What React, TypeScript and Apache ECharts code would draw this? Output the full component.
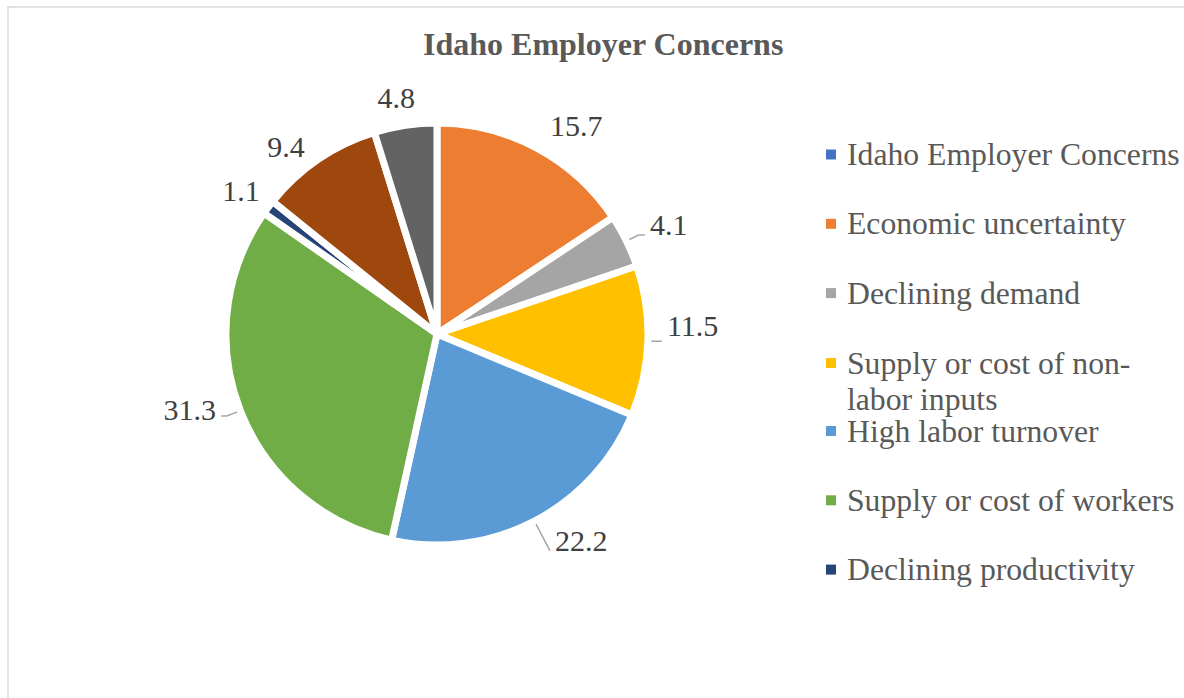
import React, { useEffect, useRef } from "react";
import * as echarts from "echarts";

const TITLE = "Idaho Employer Concerns";
const categories = [
  "Idaho Employer Concerns",
  "Economic uncertainty",
  "Declining demand",
  "Supply or cost of non-labor inputs",
  "High labor turnover",
  "Supply or cost of workers",
  "Declining productivity",
  "Government regulations",
  "Other",
];
const values = [0, 15.7, 4.1, 11.5, 22.2, 31.3, 1.1, 9.4, 4.8];
const colors = [
  "#4472C4",
  "#ED7D31",
  "#A5A5A5",
  "#FFC000",
  "#5B9BD5",
  "#70AD47",
  "#264478",
  "#9E480E",
  "#636363",
];
const legendGroupA = categories.slice(0, 3);
const legendGroupB = categories.slice(3, 4);
const legendGroupC = categories.slice(4, 7);

// per-slice label placement (label line lengths, spacer below text, line visibility)
const labelLen1 = [0, 25.6, 13.5, 7, 33.6, 14.7, 27, 15.7, 28.2];
const labelLen2 = [0, -3.9, 6.5, 7, 0, 5.7, -18, 0, -18.8];
const labelPadBottom = [0, 0, 21.6, 30.4, 20, 14, 0, 0, 0];
const labelLineVisible = [false, false, true, true, true, true, false, false, false];

const FONT = "'Liberation Serif', 'Times New Roman', serif";

export default function App() {
  const ref = useRef<HTMLDivElement>(null);
  useEffect(() => {
    if (!ref.current) return;
    const chart = echarts.init(ref.current, undefined, { renderer: "svg" });
    const legendText = {
      fontFamily: FONT,
      fontSize: 31.7,
      color: "#595959",
      lineHeight: 36,
      padding: [0, 0, 0, 6],
    };
    const legendBase = {
      orient: "vertical" as const,
      left: 826,
      padding: 0,
      itemWidth: 10,
      itemHeight: 10,
      itemGap: 33.3,
      icon: "rect",
      selectedMode: false,
      itemStyle: { borderWidth: 0 },
      textStyle: legendText,
    };
    chart.setOption({
      animation: false,
      color: colors,
      title: {
        text: TITLE,
        left: 418,
        top: 23,
        textStyle: {
          fontFamily: FONT,
          fontSize: 32,
          fontWeight: "bold",
          color: "#595959",
        },
      },
      legend: [
        { ...legendBase, top: 136.5, data: legendGroupA },
        {
          ...legendBase,
          top: 309,
          data: legendGroupB,
          formatter: () => "\nSupply or cost of non-\nlabor inputs",
        },
        { ...legendBase, top: 413, data: legendGroupC },
      ],
      graphic: [
        {
          type: "rect",
          shape: { x: 8, y: 7, width: 1300, height: 800 },
          style: { fill: "none", stroke: "#D9D9D9", lineWidth: 1.5 },
          silent: true,
        },
      ],
      series: [
        {
          type: "pie",
          center: [437, 334],
          radius: 211,
          startAngle: 90,
          clockwise: true,
          avoidLabelOverlap: false,
          itemStyle: { borderColor: "#ffffff", borderWidth: 7 },
          label: {
            show: true,
            position: "outside",
            fontFamily: FONT,
            fontSize: 30,
            lineHeight: 30,
            color: "#404040",
          },
          labelLine: {
            show: true,
            length: 10,
            length2: 10,
            lineStyle: { color: "#A6A6A6", width: 1.5 },
          },
          data: categories.map((name, i) => ({
            name,
            value: values[i],
            label: {
              show: values[i] !== 0,
              formatter:
                labelPadBottom[i] > 0 ? `${values[i]}\n{p| }` : `${values[i]}`,
              rich: {
                p: {
                  fontSize: 1,
                  lineHeight: labelPadBottom[i],
                  height: labelPadBottom[i],
                },
              },
            },
            labelLine: {
              show: labelLineVisible[i],
              length: labelLen1[i],
              length2: labelLen2[i],
            },
          })),
        },
      ],
    });
    return () => chart.dispose();
  }, []);
  return (
    <div
      ref={ref}
      style={{ position: "absolute", left: 0, top: 0, width: 1184, height: 698 }}
    />
  );
}
